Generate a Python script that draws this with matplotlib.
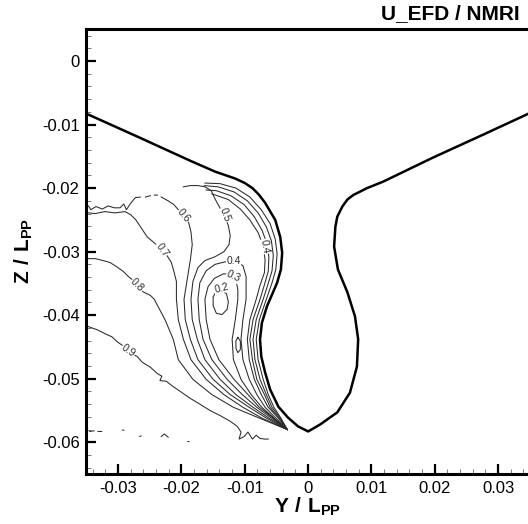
import numpy as np
import matplotlib
matplotlib.use("Agg")
import matplotlib.pyplot as plt

plt.rcParams['font.family'] = 'Liberation Sans'
plt.rcParams['axes.unicode_minus'] = False
plt.rcParams['mathtext.fontset'] = 'custom'
plt.rcParams['mathtext.rm'] = 'Liberation Sans'
plt.rcParams['mathtext.bf'] = 'Liberation Sans:bold'

nan = np.nan

# hull section (Y/Lpp, Z/Lpp)
hull_y = [-0.0352, -0.0265, -0.0186, -0.0147, -0.0115, -0.0100, -0.0088, -0.0078, -0.0068, -0.0052,
          -0.0044, -0.0041, -0.0043, -0.0049, -0.0065, -0.0073, -0.0076, -0.0074, -0.0068, -0.0060,
          -0.0047, -0.0032, -0.0016, 0.0,
          0.0019, 0.0046, 0.0066, 0.0077, 0.0079, 0.0074, 0.0062, 0.0047, 0.0041, 0.0043,
          0.0046, 0.0054, 0.0062, 0.0071, 0.0093, 0.0118, 0.0197, 0.0276, 0.0354]
hull_z = [-0.0082, -0.0121, -0.0157, -0.0174, -0.0185, -0.0192, -0.0200, -0.0210, -0.0223, -0.0250,
          -0.0277, -0.0302, -0.0328, -0.0349, -0.0386, -0.0412, -0.0438, -0.0465, -0.0490, -0.0517,
          -0.0544, -0.0561, -0.0575, -0.0583,
          -0.0572, -0.0553, -0.0522, -0.0481, -0.0438, -0.0402, -0.0364, -0.0328, -0.0292, -0.0261,
          -0.0245, -0.0229, -0.0218, -0.0211, -0.0200, -0.0190, -0.0152, -0.0116, -0.0080]

# measured wake contours U (traced lines)
u09_y = [-0.0347, -0.0333, -0.0321, -0.0310, -0.0300, -0.0291, -0.0276, -0.0270, -0.0262, -0.0249,
         -0.0238, -0.0231, -0.0234, -0.0224, -0.0215, -0.0202, -0.0186, -0.0171, -0.0155, -0.0139,
         -0.0123, -0.0112, -0.0106, -0.0109, -0.0101, -0.0095, -0.0088, -0.0082, -0.0076, -0.0069,
         -0.0063,
         nan, -0.0345, -0.0338, nan, -0.0332, -0.0326, nan, -0.0293, -0.0291, nan, -0.0266, -0.0264,
         nan, -0.0232, -0.0227, -0.0221, nan, -0.0190, -0.0188]
u09_z = [-0.0418, -0.0423, -0.0429, -0.0434, -0.0443, -0.0449, -0.0462, -0.0465, -0.0474, -0.0482,
         -0.0492, -0.0496, -0.0503, -0.0504, -0.0511, -0.0520, -0.0531, -0.0540, -0.0550, -0.0558,
         -0.0567, -0.0575, -0.0584, -0.0595, -0.0591, -0.0584, -0.0595, -0.0589, -0.0594, -0.0595,
         -0.0595,
         nan, -0.0583, -0.0582, nan, -0.0583, -0.0583, nan, -0.0581, -0.0581, nan, -0.0591, -0.0590,
         nan, -0.0591, -0.0587, -0.0592, nan, -0.0599, -0.0599]

u08_y = [-0.0347, -0.0336, -0.0324, -0.0313, -0.0302, -0.0292, -0.0284, -0.0278, -0.0270, -0.0261,
         -0.0249, -0.0243, -0.0226, -0.0213, -0.0205, -0.0182, -0.0152, -0.0118, -0.0077, -0.0033]
u08_z = [-0.0311, -0.0311, -0.0314, -0.0317, -0.0324, -0.0331, -0.0339, -0.0344, -0.0352, -0.0363,
         -0.0369, -0.0375, -0.0407, -0.0438, -0.0470, -0.0501, -0.0525, -0.0545, -0.0562, -0.0580]

u07_y = [-0.0347, -0.0336, -0.0321, -0.0305, -0.0289, -0.0280, -0.0272, -0.0264, -0.0254, -0.0243,
         -0.0234, -0.0223, -0.0216, -0.0212, -0.0208, -0.0208, -0.0205, -0.0197, -0.0185, -0.0161,
         -0.0133, -0.0103, -0.0073, -0.0033]
u07_z = [-0.0239, -0.0240, -0.0237, -0.0239, -0.0237, -0.0242, -0.0250, -0.0262, -0.0277, -0.0286,
         -0.0294, -0.0306, -0.0317, -0.0331, -0.0347, -0.0375, -0.0407, -0.0438, -0.0470, -0.0501,
         -0.0525, -0.0545, -0.0562, -0.0580]

u06_y = [-0.0347, -0.0343, -0.0335, -0.0325, -0.0316, -0.0306, -0.0297, -0.0291, -0.0287, -0.0281,
         -0.0273, -0.0265, nan, -0.0257, -0.0249, nan, -0.0243, -0.0238, nan,
         -0.0232, -0.0221, -0.0212, -0.0205, -0.0197, -0.0189, -0.0185, -0.0183, -0.0186, -0.0191,
         -0.0196, -0.0194, -0.0186, -0.0174, -0.0150, -0.0123, -0.0093, -0.0066, -0.0033]
u06_z = [-0.0228, -0.0234, -0.0229, -0.0233, -0.0228, -0.0231, -0.0231, -0.0225, -0.0234, -0.0225,
         -0.0215, -0.0214, nan, -0.0214, -0.0212, nan, -0.0211, -0.0211, nan,
         -0.0214, -0.0220, -0.0226, -0.0234, -0.0244, -0.0253, -0.0269, -0.0289, -0.0313, -0.0344,
         -0.0375, -0.0407, -0.0438, -0.0470, -0.0501, -0.0525, -0.0545, -0.0562, -0.0580]

u05_y = [-0.0197, -0.0186, -0.0174, -0.0163, -0.0153, -0.0147, -0.0141, -0.0136, -0.0131, -0.0126,
         -0.0123, -0.0125, -0.0133, -0.0147, -0.0163, -0.0174, -0.0182, -0.0185, -0.0183, -0.0175,
         -0.0163, -0.0139, -0.0114, -0.0087, -0.0062, -0.0033]
u05_z = [-0.0198, -0.0196, -0.0196, -0.0198, -0.0204, -0.0217, -0.0228, -0.0237, -0.0247, -0.0259,
         -0.0275, -0.0289, -0.0300, -0.0308, -0.0314, -0.0325, -0.0347, -0.0375, -0.0407, -0.0438,
         -0.0470, -0.0501, -0.0525, -0.0545, -0.0562, -0.0580]

u04_y = [-0.0033, -0.0058, -0.0081, -0.0104, -0.0128, -0.0152, -0.0166, -0.0172, -0.0174, -0.0171,
         -0.0161, -0.0147, -0.0131, -0.0115, -0.0103, -0.0098, -0.0098, -0.0098, -0.0103, -0.0106,
         -0.0103, -0.0093, -0.0081, -0.0068, -0.0051, -0.0033]
u04_z = [-0.0580, -0.0562, -0.0545, -0.0525, -0.0501, -0.0470, -0.0438, -0.0407, -0.0375, -0.0349,
         -0.0330, -0.0320, -0.0316, -0.0316, -0.0322, -0.0339, -0.0360, -0.0375, -0.0407, -0.0438,
         -0.0470, -0.0501, -0.0525, -0.0545, -0.0562, -0.0580]

u03_y = [-0.0033, -0.0055, -0.0077, -0.0095, -0.0117, -0.0141, -0.0155, -0.0161, -0.0163, -0.0158,
         -0.0148, -0.0134, -0.0122, -0.0114, -0.0111, -0.0111, -0.0115, -0.0120, -0.0118, -0.0106,
         -0.0090, -0.0073, -0.0054, -0.0033]
u03_z = [-0.0580, -0.0562, -0.0545, -0.0525, -0.0501, -0.0470, -0.0438, -0.0407, -0.0375, -0.0355,
         -0.0342, -0.0335, -0.0335, -0.0344, -0.0360, -0.0375, -0.0407, -0.0438, -0.0470, -0.0501,
         -0.0525, -0.0545, -0.0562, -0.0580]

u02_y = [-0.0139, -0.0129, -0.0126, -0.0128, -0.0136, -0.0145, -0.0150, -0.0150, -0.0145, -0.0139,
         nan, -0.0111, -0.0107, -0.0107, -0.0111, -0.0114, -0.0114, -0.0111]
u02_z = [-0.0361, -0.0366, -0.0379, -0.0391, -0.0399, -0.0397, -0.0385, -0.0371, -0.0363, -0.0361,
         nan, -0.0435, -0.0441, -0.0454, -0.0459, -0.0452, -0.0440, -0.0435]

# boundary layer lines along the hull
bl1_y = [-0.0163, -0.0139, -0.0114, -0.0092, -0.0074, -0.0060, -0.0052, -0.0049, -0.0051, -0.0057,
         -0.0066, -0.0077, -0.0082, -0.0079, -0.0071, -0.0063, -0.0054, -0.0043, -0.0033]
bl1_z = [-0.0192, -0.0193, -0.0200, -0.0214, -0.0234, -0.0256, -0.0280, -0.0303, -0.0328, -0.0349,
         -0.0375, -0.0407, -0.0438, -0.0470, -0.0501, -0.0525, -0.0545, -0.0562, -0.0580]
bl2_y = [-0.0164, -0.0142, -0.0117, -0.0096, -0.0079, -0.0066, -0.0058, -0.0055, -0.0057, -0.0063,
         -0.0071, -0.0082, -0.0087, -0.0084, -0.0076, -0.0066, -0.0057, -0.0044, -0.0033]
bl2_z = [-0.0196, -0.0198, -0.0206, -0.0220, -0.0239, -0.0261, -0.0283, -0.0306, -0.0330, -0.0350,
         -0.0375, -0.0407, -0.0438, -0.0470, -0.0501, -0.0525, -0.0545, -0.0562, -0.0580]
bl3_y = [-0.0161, -0.0145, -0.0122, -0.0101, -0.0085, -0.0073, -0.0065, -0.0062, -0.0063, -0.0069,
         -0.0076, -0.0087, -0.0092, -0.0088, -0.0081, -0.0069, -0.0060, -0.0046, -0.0033]
bl3_z = [-0.0203, -0.0204, -0.0212, -0.0226, -0.0245, -0.0266, -0.0287, -0.0309, -0.0331, -0.0352,
         -0.0375, -0.0407, -0.0438, -0.0470, -0.0501, -0.0525, -0.0545, -0.0562, -0.0580]
bl4_y = [-0.0152, -0.0126, -0.0107, -0.0092, -0.0079, -0.0071, -0.0068, -0.0069, -0.0076, -0.0082,
         -0.0092, -0.0096, -0.0093, -0.0085, -0.0074, -0.0063, -0.0047, -0.0033]
bl4_z = [-0.0209, -0.0218, -0.0233, -0.0250, -0.0270, -0.0291, -0.0313, -0.0333, -0.0353, -0.0375,
         -0.0407, -0.0438, -0.0470, -0.0501, -0.0525, -0.0545, -0.0562, -0.0580]

label_text = ['0.9', '0.8', '0.7', '0.6', '0.5', '0.4', '0.3', '0.2', '0.4']
label_y = [-0.0284, -0.0270, -0.0231, -0.0197, -0.0131, -0.0118, -0.0118, -0.0137, -0.0068]
label_z = [-0.0456, -0.0353, -0.0297, -0.0244, -0.0242, -0.0314, -0.0339, -0.0357, -0.0292]
label_rot = [-35, -45, -55, -50, -70, 0, -25, 15, -80]

x_ticks = [-0.03, -0.02, -0.01, 0.0, 0.01, 0.02, 0.03]
x_tick_labels = ['-0.03', '-0.02', '-0.01', '0', '0.01', '0.02', '0.03']
y_ticks = [0.0, -0.01, -0.02, -0.03, -0.04, -0.05, -0.06]
y_tick_labels = ['0', '-0.01', '-0.02', '-0.03', '-0.04', '-0.05', '-0.06']

fig = plt.figure(figsize=(5.28, 5.24), dpi=100)
ax = fig.add_axes([0.1638, 0.0954, 0.8396, 0.8487])

lc = '#2a2a2a'
for cy, cz in [(u09_y, u09_z), (u08_y, u08_z), (u07_y, u07_z), (u06_y, u06_z), (u05_y, u05_z),
               (u04_y, u04_z), (u03_y, u03_z), (u02_y, u02_z),
               (bl1_y, bl1_z), (bl2_y, bl2_z), (bl3_y, bl3_z), (bl4_y, bl4_z)]:
    ax.plot(cy, cz, color=lc, lw=0.75, solid_joinstyle='round')

for t, y, z, r in zip(label_text, label_y, label_z, label_rot):
    ax.text(y, z, t, fontsize=7.5, rotation=r, ha='center', va='center', color=lc,
            bbox=dict(fc='white', ec='none', pad=0.3))

ax.plot(hull_y, hull_z, color='k', lw=1.8, solid_joinstyle='round')

ax.set_xlim(-0.035, 0.035)
ax.set_ylim(-0.065, 0.005)
ax.set_xticks(x_ticks)
ax.set_xticklabels(x_tick_labels)
ax.set_yticks(y_ticks)
ax.set_yticklabels(y_tick_labels)
ax.set_xticks(np.arange(-0.034, 0.035, 0.002), minor=True)
ax.set_yticks(np.arange(-0.064, 0.005, 0.002), minor=True)
ax.tick_params(which='major', direction='in', length=7.2, width=1.6, labelsize=12, pad=5,
               top=False, right=False)
ax.tick_params(which='minor', direction='in', length=3.6, width=0.7, color='#777777',
               top=False, right=False)
for s in ax.spines.values():
    s.set_linewidth(2.2)

fig.text(0.985, 0.975, 'U_EFD / NMRI', ha='right', va='center', fontsize=15, fontweight='bold')
fig.text(308 / 528, 0.032, r'$\mathbf{Y\ /\ L_{PP}}$', ha='center', va='center', fontsize=15)
fig.text(24 / 528, 0.521, r'$\mathbf{Z\ /\ L_{PP}}$', ha='center', va='center', fontsize=15,
         rotation=90)

fig.savefig('out.png', dpi=100)
